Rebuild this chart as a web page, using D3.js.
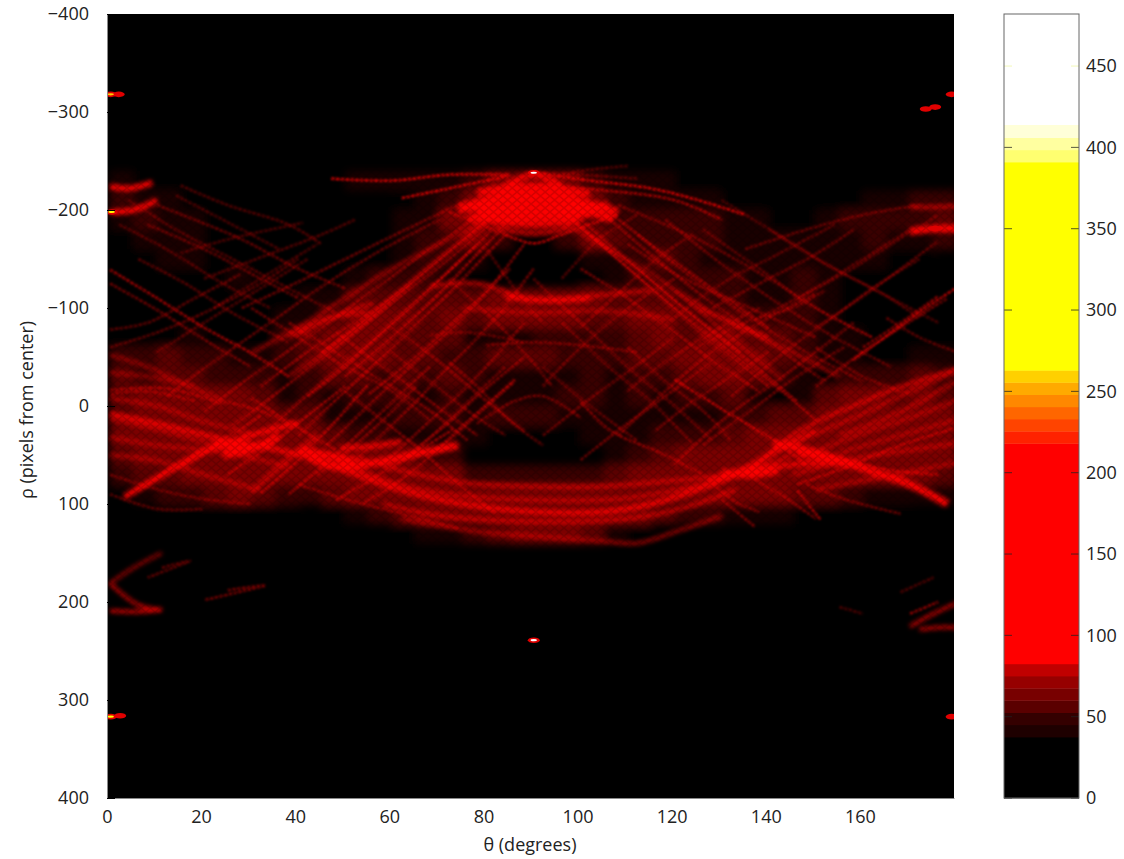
<!DOCTYPE html>
<html>
<head>
<meta charset="utf-8">
<script src="https://cdn.jsdelivr.net/npm/d3@7"></script>
<style>
html, body { margin: 0; padding: 0; background: #fff; }
text { font-family: "Open Sans", "Noto Sans", sans-serif; fill: #222; }
</style>
</head>
<body>
<div id="chart"></div>
<script>
// axis ticks
var thetaTicks = [0, 20, 40, 60, 80, 100, 120, 140, 160];
var rhoTicks = [-400, -300, -200, -100, 0, 100, 200, 300, 400];
var barTicks = [0, 50, 100, 150, 200, 250, 300, 350, 400, 450];

// colour bar levels
var barEdges = [37.5, 45, 52.5, 60, 67.5, 75, 82.5, 218, 225.5, 233, 240.5, 248, 255.5, 263, 391, 398.5, 406, 414];
var barColors = ["#000000", "#1e0000", "#340000", "#5a0000", "#780000", "#960000", "#c00000", "#ff0000",
	"#ff2200", "#ff4400", "#ff6600", "#ff8800", "#ffaa00", "#ffd000", "#ffff00", "#ffff70", "#ffffa0", "#ffffd8", "#ffffff"];

// coarse vote density, one digit per 5 degrees, digit x 15 = votes
var glowRho = [-250, -230, -210, -190, -170, -150, -130, -110, -90, -70, -50, -30, -10, 10, 30, 50, 70, 90, 110, 130];
var glowRows = [
	"000 000 000 000 000 000 000 000 000 000 000 000",
	"322 000 000 033 333 468 864 333 220 000 000 000",
	"433 200 000 000 234 899 987 433 332 210 123 344",
	"343 320 000 000 336 899 875 444 443 322 344 445",
	"133 322 100 000 344 642 246 544 443 333 334 334",
	"023 322 220 012 344 300 003 345 433 333 333 210",
	"102 223 221 234 443 100 001 344 444 334 322 100",
	"122 222 223 355 555 567 876 555 444 334 322 112",
	"212 212 233 567 656 566 765 566 545 444 321 212",
	"212 322 245 676 555 333 444 456 566 554 332 222",
	"445 443 345 666 554 455 544 455 676 654 331 233",
	"545 544 434 554 545 433 334 344 566 543 244 454",
	"566 666 534 344 434 333 344 343 445 323 566 565",
	"577 776 655 333 444 344 433 333 334 455 677 766",
	"667 788 876 544 333 311 113 334 445 788 877 776",
	"566 788 887 776 644 000 000 345 667 999 887 776",
	"455 677 767 887 666 444 444 567 899 988 777 665",
	"234 456 544 567 788 888 888 876 776 665 543 333",
	"001 122 110 234 567 888 888 885 443 332 211 100",
	"000 000 000 000 133 456 665 320 000 000 000 000"
];

// broad ridges as [theta, rho], votes alongside
var ridges = [
	[[0,8],[10,18],[25,35],[35,44],[42,52],[50,66],[62,86],[75,100],[90,108],[105,108],[115,100],[125,85],[134,68],[142,45],[150,26]],
	[[3,93],[12,68],[20,47],[30,30],[40,17]],
	[[30,88],[36,62],[41,42],[44,30]],
	[[42,52],[48,62],[56,58],[66,48],[74,40]],
	[[49,43],[56,41],[62,36]],
	[[52,52],[62,66],[75,78],[90,82],[105,82],[120,76],[134,68],[145,50]],
	[[48,55],[60,78],[72,90],[90,96],[108,95],[122,84],[134,70]],
	[[58,100],[70,112],[90,118],[110,115],[122,104],[133,85]],
	[[62,115],[78,128],[90,133],[105,138],[112,140],[121,127],[130,112]],
	[[141,38],[148,45],[155,55],[161,65],[170,80],[178,100]],
	[[127,75],[137,58],[145,30],[152,12],[158,0],[166,-16],[180,-38]],
	[[134,68],[142,62],[150,58],[160,62]],
	[[0,-52],[8,-40],[16,-22],[24,-5]],
	[[0,-34],[8,-30],[18,-20]],
	[[0,-8],[10,0],[20,16],[30,28]],
	[[0,14],[10,24],[22,40]],
	[[0,32],[10,40],[25,48],[38,62]],
	[[0,50],[10,56],[20,70],[32,86]],
	[[150,28],[160,8],[170,-15],[180,-35]],
	[[155,30],[168,6],[180,-26]],
	[[148,50],[160,28],[170,12],[180,-6]],
	[[155,48],[168,30],[180,14]],
	[[145,70],[160,52],[170,45],[180,38]],
	[[150,85],[165,72],[180,58]],
	[[76,-205],[85,-215],[95,-215],[103,-202]],
	[[74,-200],[82,-208],[90,-212],[100,-208],[108,-198]],
	[[78,-195],[90,-205],[100,-200],[107,-190]],
	[[80,-190],[90,-185],[100,-190]],
	[[84,-225],[90,-236],[96,-225]],
	[[74,-204],[84,-200],[96,-200],[106,-205]],
	[[78,-218],[90,-224],[102,-216]],
	[[76,-192],[88,-192],[102,-196]],
	[[82,-182],[90,-176],[98,-182]],
	[[68,-122],[78,-125],[90,-108],[102,-112],[115,-118]],
	[[75,-100],[90,-95],[105,-97],[120,-88]],
	[[30,-54],[40,-80],[50,-110],[60,-140],[70,-165],[80,-190]],
	[[38,-30],[50,-70],[60,-110],[70,-150],[82,-195]],
	[[38,-70],[45,-88],[55,-95]],
	[[96,-187],[108,-155],[118,-125],[130,-78],[143,-27]],
	[[120,-118],[132,-85],[145,-55],[155,-30]],
	[[22,38],[28,42],[34,38]],
	[[24,50],[30,44],[36,30]],
	[[40,44],[46,50],[52,56]],
	[[130,68],[136,70],[142,66]],
	[[146,48],[152,52],[158,60]],
	[[40,-72],[48,-92],[56,-105]],
	[[125,-100],[132,-85],[140,-70]],
	[[84,-112],[92,-108],[102,-110]],
	[[0,-224],[4,-222],[9,-228]],
	[[0,-198],[5,-200],[10,-210]],
	[[170,-203],[175,-203],[180,-204]],
	[[170,-178],[175,-181],[180,-181]],
	[[0,181],[6,203],[11,208]],
	[[0,181],[5,165],[11,150]],
	[[0,209],[6,210],[11,208]],
	[[180,201],[175,212],[170,225]],
	[[180,226],[176,226],[172,228]]
];
var ridgeVotes = [130, 150, 115, 175, 130, 110, 100, 115, 90, 175, 125, 130, 75, 70, 85, 80, 85, 85,
	90, 85, 80, 80, 90, 85, 190, 190, 180, 140, 150, 190, 180, 170, 120, 110, 85, 85, 85, 105, 75, 90,
	190, 190, 190, 190, 190, 110, 105, 140, 150, 160, 110, 170, 110, 80, 120, 110, 110];

// thin threads of the cross-hatching, traced the same way
var threads = [
	[[0,-139],[10,-110],[20,-80],[30,-54],[38,-30]],
	[[0,-125],[10,-98],[22,-62],[30,-40]],
	[[0,-78],[8,-85],[18,-110],[28,-135]],
	[[0,-60],[10,-75],[20,-95],[32,-125],[40,-150]],
	[[15,-156],[25,-170],[41,-187]],
	[[20,-130],[30,-148],[45,-175],[52,-190]],
	[[10,-205],[18,-190],[28,-170],[40,-140],[50,-120]],
	[[8,-185],[20,-160],[30,-135],[40,-110]],
	[[15,-225],[25,-205],[38,-185],[45,-165]],
	[[28,-100],[38,-122],[50,-150],[62,-178],[76,-210]],
	[[45,-55],[55,-90],[65,-130],[75,-170],[86,-212]],
	[[50,-30],[60,-70],[70,-115],[80,-165],[90,-215]],
	[[42,-10],[50,-40],[60,-85],[68,-120],[78,-165]],
	[[55,-12],[65,-50],[75,-95],[85,-140]],
	[[32,-20],[42,-55],[52,-85],[64,-125]],
	[[48,96],[58,68],[66,44],[73,24]],
	[[54,99],[64,68],[75,20],[86,-27]],
	[[32,89],[40,55],[48,15],[55,-23]],
	[[38,90],[48,50],[58,5],[68,-40]],
	[[60,60],[70,25],[78,-10],[88,-50]],
	[[44,70],[52,40],[60,5],[65,-20]],
	[[25,70],[34,40],[42,10],[50,-20]],
	[[16,60],[24,35],[32,10]],
	[[6,85],[14,60],[22,38]],
	[[30,-8],[36,10],[42,28],[48,45]],
	[[24,-5],[32,5],[38,18]],
	[[50,-15],[58,15],[66,45],[74,80],[82,110]],
	[[72,-45],[78,-20],[85,15],[92,40]],
	[[60,-55],[68,-25],[76,5],[84,30]],
	[[100,-140],[110,-110],[120,-75],[130,-40],[138,-15]],
	[[92,-215],[102,-175],[112,-140],[122,-100],[134,-55]],
	[[104,-205],[115,-165],[128,-120],[140,-80]],
	[[110,-165],[122,-130],[136,-100],[150,-70]],
	[[108,-205],[125,-170],[140,-130],[150,-100],[162,-70]],
	[[120,-27],[130,3],[141,35],[148,60]],
	[[100,-5],[106,24],[118,50],[126,70]],
	[[110,-60],[118,-25],[126,5],[132,35]],
	[[146,86],[151,116]],
	[[130,96],[137,123]],
	[[136,72],[144,95],[150,115]],
	[[128,80],[133,98],[138,108]],
	[[158,-47],[166,-75],[174,-102],[180,-121]],
	[[160,-60],[168,-85],[176,-112]],
	[[150,-80],[158,-105],[168,-140],[176,-168]],
	[[138,-90],[148,-115],[160,-150],[170,-180]],
	[[128,-100],[138,-125],[150,-155],[158,-180]],
	[[135,-160],[148,-180],[160,-195],[172,-205]],
	[[125,-60],[135,-85],[145,-100],[152,-118]],
	[[110,-15],[118,-45],[128,-75],[138,-100]],
	[[116,25],[124,-5],[132,-30],[140,-55]],
	[[100,55],[108,25],[118,-10],[128,-45]],
	[[92,30],[100,0],[110,-35],[120,-70]],
	[[165,-90],[172,-70],[180,-55]],
	[[150,-60],[160,-30],[170,-12]],
	[[88,-65],[76,-75],[68,-72]],
	[[80,-62],[90,-65],[100,-62],[112,-55]],
	[[78,18],[86,-5],[92,-10],[100,12]],
	[[112,-232],[100,-236],[92,-238]],
	[[47,-232],[60,-230],[72,-236],[85,-236]],
	[[62,-212],[72,-222],[85,-235]],
	[[90,-238],[102,-230],[115,-222],[125,-210],[135,-195]],
	[[90,-225],[105,-220],[120,-210],[130,-190]],
	[[110,-245],[98,-238],[92,-228]],
	[[84,-175],[90,-166],[96,-175],[108,-196]],
	[[72,-198],[84,-175]],
	[[25,188],[33,183],[20,198]],
	[[11,165],[17,158],[8,175]],
	[[155,205],[160,212]],
	[[168,190],[175,175]],
	[[170,212],[176,200]],
	[[18,-5],[8,-15],[0,-12]],
	[[0,-16],[12,-18],[24,-2]],
	[[176,70],[165,65],[152,50]],
	[[180,22],[168,40],[155,65],[146,80]],
	[[12,-10],[22,-45],[34,-85],[46,-125],[58,-160],[70,-190]],
	[[20,5],[30,-30],[42,-70],[55,-115],[68,-160],[80,-200]],
	[[26,20],[36,-15],[48,-60],[60,-105],[72,-150],[84,-200]],
	[[34,22],[44,-20],[54,-60],[66,-110],[78,-165],[88,-215]],
	[[40,30],[50,-15],[60,-60],[72,-115],[84,-175]],
	[[46,40],[56,-5],[66,-50],[78,-105],[88,-165]],
	[[52,55],[62,10],[72,-40],[82,-90],[90,-140]],
	[[58,60],[68,15],[78,-30],[88,-85]],
	[[64,50],[74,5],[84,-40]],
	[[70,45],[78,10],[86,-25]],
	[[10,-55],[20,-85],[32,-120],[42,-150]],
	[[22,-100],[32,-130],[44,-165]],
	[[92,-210],[104,-165],[116,-115],[128,-65],[140,-20]],
	[[96,-200],[108,-150],[120,-100],[132,-55],[144,-10],[150,15]],
	[[100,-190],[112,-140],[124,-90],[136,-45],[146,-5]],
	[[104,-200],[116,-150],[128,-105],[140,-65],[152,-25]],
	[[112,-175],[124,-130],[136,-90],[148,-55],[160,-25]],
	[[118,-190],[130,-145],[142,-105],[154,-70],[166,-40]],
	[[126,-180],[138,-140],[150,-100],[162,-70]],
	[[90,-130],[100,-85],[110,-40],[120,0],[128,35]],
	[[96,-85],[106,-40],[116,0],[124,40]],
	[[92,-40],[102,0],[112,35]],
	[[140,-180],[152,-145],[164,-115],[172,-90]],
	[[130,-210],[142,-175],[154,-140],[166,-110],[176,-85]],
	[[4,-210],[14,-180],[26,-150],[38,-120],[48,-95]],
	[[2,-185],[12,-160],[24,-125],[34,-100]],
	[[6,-150],[16,-125],[26,-95],[38,-65]],
	[[14,-215],[24,-190],[36,-160]],
	[[30,-100],[40,-70],[50,-40],[60,-15],[68,15]],
	[[38,-85],[48,-55],[58,-25],[68,5],[76,35]],
	[[48,-75],[58,-40],[68,-5],[78,30]],
	[[60,-80],[70,-45],[80,-5],[88,25]],
	[[72,-130],[80,-95],[88,-55],[94,-20]],
	[[80,-160],[86,-120],[92,-85]],
	[[92,-20],[100,-60],[110,-100],[120,-130]],
	[[100,-80],[108,-115],[116,-150],[124,-175]],
	[[96,-130],[104,-170],[112,-195]],
	[[108,30],[118,-15],[128,-55],[140,-90],[150,-115]],
	[[120,60],[130,15],[140,-20],[150,-55],[158,-85]],
	[[126,40],[136,5],[146,-30],[156,-60]],
	[[132,-10],[142,-50],[152,-85],[162,-120],[172,-150]],
	[[120,-90],[130,-125],[142,-155],[154,-185]],
	[[146,-110],[156,-135],[166,-165],[176,-195]],
	[[150,-20],[160,-55],[168,-80],[178,-110]],
	[[40,80],[50,95],[62,110],[74,125]],
	[[148,80],[156,95],[168,110]],
	[[0,90],[10,105],[20,105]],
	[[0,70],[10,85],[20,95],[30,100]]
];
var threadVotes = [85, 70, 65, 65, 60, 62, 68, 68, 62, 70, 85, 85, 80, 75, 75, 80, 80, 85, 75, 70, 72, 85, 80, 75,
	80, 75, 72, 66, 66, 72, 85, 75, 68, 66, 90, 75, 66, 85, 70, 72, 70, 90, 75, 65, 65, 65, 66, 66, 66, 66, 68, 66,
	66, 66, 64, 68, 70, 62, 100, 100, 100, 85, 60, 95, 80, 70, 65, 58, 60, 80, 70, 75, 85, 85,
	68, 72, 75, 80, 78, 75, 72, 70, 66, 66, 62, 60,
	75, 78, 75, 70, 68, 66, 62, 66, 64, 64, 60, 60,
	62, 62, 64, 60, 70, 72, 72, 68, 66, 62,
	66, 64, 62, 68, 70, 68, 64, 62, 60, 72, 70, 70, 66, 66];

// isolated peaks
var peakTheta = [90.7, 90.7, 0.8, 2.5, 176, 174, 179.5, 0.8, 2.8, 179.5, 1, 176];
var peakRho = [-238, 239, -318, -318, -305, -303, -318, 317, 316, 317, -198, -181];
var peakVotes = [470, 470, 260, 130, 140, 190, 110, 270, 130, 130, 280, 190];

var barMax = 482;
var plot = {left: 107, right: 954, top: 14, bottom: 798};
var bar = {left: 1004, right: 1079};
var labelSize = 18;
var ridgeShift = 3; // the accumulator sits a little right of the tick scale

var heat = d3.scaleThreshold().domain(barEdges).range(barColors);
var x = d3.scaleLinear().domain([0, 180]).range([plot.left, plot.right]);
var y = d3.scaleLinear().domain([-400, 400]).range([plot.top, plot.bottom]);
var yBar = d3.scaleLinear().domain([0, barMax]).range([plot.bottom, plot.top]);
var ridgeAlpha = d3.scaleLinear().domain([70, 150]).range([0.45, 0.95]).clamp(true);
var threadAlpha = d3.scaleLinear().domain([58, 100]).range([0.3, 0.85]).clamp(true);

var svg = d3.select("#chart").append("svg")
	.attr("width", 1124)
	.attr("height", 859)
	.style("display", "block");

var defs = svg.append("defs");
defs.append("clipPath").attr("id", "plot-clip").append("rect")
	.attr("x", plot.left).attr("y", plot.top)
	.attr("width", plot.right - plot.left).attr("height", plot.bottom - plot.top);
[["glow", 4], ["soft", 1.9], ["fine", 1], ["sharp", 0.6]].forEach(function(f) {
	defs.append("filter").attr("id", f[0])
		.attr("filterUnits", "userSpaceOnUse")
		.attr("x", 0).attr("y", 0).attr("width", 1124).attr("height", 859)
		.append("feGaussianBlur").attr("stdDeviation", f[1]);
});

// fine weave over the red, the blocky moire of the accumulator
var weave = defs.append("pattern").attr("id", "weave")
	.attr("patternUnits", "userSpaceOnUse")
	.attr("width", 9.4).attr("height", 8);
weave.append("path").attr("d", "M0,0L9.4,8M9.4,0L0,8")
	.attr("stroke", "#000").attr("stroke-width", 1.4).attr("stroke-opacity", 0.16);

var field = svg.append("g").attr("clip-path", "url(#plot-clip)");
field.append("rect")
	.attr("x", plot.left).attr("y", plot.top)
	.attr("width", plot.right - plot.left).attr("height", plot.bottom - plot.top)
	.attr("fill", "#000");

// glow grid
var glowCells = [];
glowRows.forEach(function(row, i) {
	row.replace(/ /g, "").split("").forEach(function(c, j) {
		if (+c > 0) glowCells.push({theta: j * 5, rho: glowRho[i], votes: +c * 15});
	});
});
field.append("g").attr("filter", "url(#glow)").attr("opacity", 0.48)
	.selectAll("rect").data(glowCells).enter().append("rect")
	.attr("x", function(d) { return x(d.theta) + ridgeShift; })
	.attr("y", function(d) { return y(d.rho - 10); })
	.attr("width", x(5) - x(0) + 0.5)
	.attr("height", y(20) - y(0) + 0.5)
	.attr("fill", function(d) { return heat(d.votes); });

var line = d3.line()
	.x(function(d) { return x(d[0]); })
	.y(function(d) { return y(d[1]); })
	.curve(d3.curveCatmullRom);

field.append("g").attr("filter", "url(#fine)")
	.attr("transform", "translate(" + ridgeShift + ",0)")
	.style("mix-blend-mode", "screen")
	.selectAll("path").data(threads).enter().append("path")
	.attr("d", line)
	.attr("fill", "none")
	.attr("stroke", "#ff0000")
	.attr("stroke-opacity", function(d, i) { return threadAlpha(threadVotes[i]); })
	.attr("stroke-width", 2.6)
	.attr("stroke-dasharray", "3.6 1.2");

field.append("g").attr("filter", "url(#soft)")
	.attr("transform", "translate(" + ridgeShift + ",0)")
	.style("mix-blend-mode", "screen")
	.selectAll("path").data(ridges).enter().append("path")
	.attr("d", line)
	.attr("fill", "none")
	.attr("stroke", "#ff0000")
	.attr("stroke-opacity", function(d, i) { return ridgeAlpha(ridgeVotes[i]); })
	.attr("stroke-width", function(d, i) { return ridgeVotes[i] >= 170 ? 8 : ridgeVotes[i] >= 130 ? 6 : 4; })
	.style("mix-blend-mode", "screen");

field.append("rect")
	.attr("x", plot.left).attr("y", plot.top)
	.attr("width", plot.right - plot.left).attr("height", plot.bottom - plot.top)
	.attr("fill", "url(#weave)");

// peaks: a red halo, and a hot core where the votes run above the red band
var peakData = peakVotes.map(function(v, i) { return {theta: peakTheta[i], rho: peakRho[i], votes: v}; });
var peaks = field.append("g").attr("filter", "url(#sharp)");
peaks.selectAll("ellipse.halo").data(peakData).enter().append("ellipse")
	.attr("class", "halo")
	.attr("cx", function(d) { return x(d.theta); })
	.attr("cy", function(d) { return y(d.rho); })
	.attr("rx", 6)
	.attr("ry", 2.8)
	.attr("fill", "#e00000");
peaks.selectAll("ellipse.core").data(peakData.filter(function(d) { return d.votes > 250; })).enter().append("ellipse")
	.attr("class", "core")
	.attr("cx", function(d) { return x(d.theta); })
	.attr("cy", function(d) { return y(d.rho); })
	.attr("rx", 3.2)
	.attr("ry", 1.1)
	.attr("fill", function(d) { return heat(d.votes); });

// main axes, black ticks vanish against the field as they do in the original
var xAxis = d3.axisBottom(x).tickValues(thetaTicks).tickSize(-8).tickSizeOuter(0).tickPadding(12).tickFormat(d3.format("d"));
var yAxis = d3.axisLeft(y).tickValues(rhoTicks).tickSize(-8).tickSizeOuter(0).tickPadding(18)
	.tickFormat(function(d) { return d < 0 ? "\u2212" + (-d) : d; });

var gx = svg.append("g").attr("transform", "translate(0," + plot.bottom + ")").call(xAxis);
var gy = svg.append("g").attr("transform", "translate(" + plot.left + ",0)").call(yAxis);
[gx, gy].forEach(function(g) {
	g.selectAll("text").attr("font-size", labelSize).attr("fill", "#222");
	g.selectAll("line").attr("stroke", "#000");
	g.select(".domain").attr("stroke", "#8a8a8a");
});

svg.append("text")
	.attr("x", x(90) - 0.5).attr("y", 851)
	.attr("text-anchor", "middle").attr("font-size", labelSize)
	.text("\u03b8 (degrees)");
svg.append("text")
	.attr("transform", "translate(33,410) rotate(-90)")
	.attr("text-anchor", "middle").attr("font-size", labelSize)
	.text("\u03c1 (pixels from center)");

// colour bar
var barG = svg.append("g");
var barBands = barColors.map(function(c, i) {
	return {
		lo: i === 0 ? 0 : barEdges[i - 1],
		hi: i === barEdges.length ? barMax : barEdges[i],
		color: c
	};
});
barG.selectAll("rect").data(barBands).enter().append("rect")
	.attr("x", bar.left)
	.attr("width", bar.right - bar.left)
	.attr("y", function(d) { return yBar(d.hi); })
	.attr("height", function(d) { return yBar(d.lo) - yBar(d.hi) + 0.4; })
	.attr("fill", function(d) { return d.color; });

var barAxis = d3.axisRight(yBar).tickValues(barTicks).tickSize(0).tickPadding(7).tickFormat(d3.format("d"));
var gb = svg.append("g").attr("transform", "translate(" + bar.right + ",0)").call(barAxis);
gb.select(".domain").remove();
gb.selectAll("text").attr("font-size", labelSize).attr("fill", "#222");

var tickColor = function(d) { return d > 420 ? "#eef5a0" : d < 40 ? "#000" : "#222"; };
barG.selectAll("line.left").data(barTicks).enter().append("line")
	.attr("x1", bar.left).attr("x2", bar.left + 8)
	.attr("y1", function(d) { return yBar(d); }).attr("y2", function(d) { return yBar(d); })
	.attr("stroke", tickColor).attr("stroke-opacity", 0.75);
barG.selectAll("line.right").data(barTicks).enter().append("line")
	.attr("x1", bar.right - 8).attr("x2", bar.right)
	.attr("y1", function(d) { return yBar(d); }).attr("y2", function(d) { return yBar(d); })
	.attr("stroke", tickColor).attr("stroke-opacity", 0.75);
barG.append("rect")
	.attr("x", bar.left).attr("y", plot.top)
	.attr("width", bar.right - bar.left).attr("height", plot.bottom - plot.top)
	.attr("fill", "none").attr("stroke", "#666");
</script>
</body>
</html>
